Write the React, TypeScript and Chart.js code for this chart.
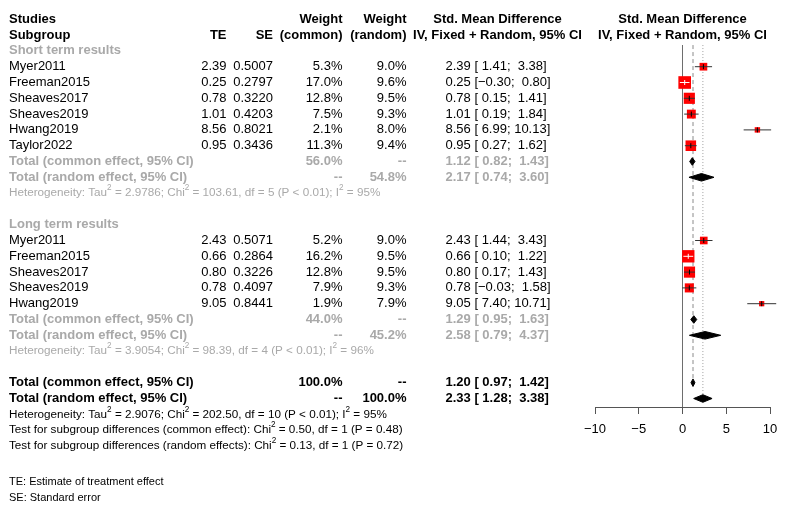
import React, { useEffect, useRef } from 'react';
import { Chart, registerables } from 'chart.js';

Chart.register(...registerables);

const FONT = '"Liberation Sans", Arial, Helvetica, sans-serif';
const GRAY = '#a9a9a9';

// ---------- data ----------
const shortStudies = ['Myer2011', 'Freeman2015', 'Sheaves2017', 'Sheaves2019', 'Hwang2019', 'Taylor2022'];
const shortTE = [2.39, 0.25, 0.78, 1.01, 8.56, 0.95];
const shortSE = [0.5007, 0.2797, 0.322, 0.4203, 0.8021, 0.3436];
const shortWCommon = [5.3, 17.0, 12.8, 7.5, 2.1, 11.3];
const shortWRandom = [9.0, 9.6, 9.5, 9.3, 8.0, 9.4];
const shortLower = [1.41, -0.3, 0.15, 0.19, 6.99, 0.27];
const shortUpper = [3.38, 0.8, 1.41, 1.84, 10.13, 1.62];

const longStudies = ['Myer2011', 'Freeman2015', 'Sheaves2017', 'Sheaves2019', 'Hwang2019'];
const longTE = [2.43, 0.66, 0.8, 0.78, 9.05];
const longSE = [0.5071, 0.2864, 0.3226, 0.4097, 0.8441];
const longWCommon = [5.2, 16.2, 12.8, 7.9, 1.9];
const longWRandom = [9.0, 9.5, 9.5, 9.3, 7.9];
const longLower = [1.44, 0.1, 0.17, -0.03, 7.4];
const longUpper = [3.43, 1.22, 1.43, 1.58, 10.71];

// summaries: [estimate, lower, upper]
const shortCommon = [1.12, 0.82, 1.43];
const shortRandom = [2.17, 0.74, 3.6];
const longCommon = [1.29, 0.95, 1.63];
const longRandom = [2.58, 0.79, 4.37];
const overallCommon = [1.2, 0.97, 1.42];
const overallRandom = [2.33, 1.28, 3.38];
// total weights: [common, random]
const shortWeightTotals = [56.0, 54.8];
const longWeightTotals = [44.0, 45.2];
const overallWeightTotals = [100.0, 100.0];

const hetShort = 'Heterogeneity: Tau^2 = 2.9786; Chi^2 = 103.61, df = 5 (P < 0.01); I^2 = 95%';
const hetLong = 'Heterogeneity: Tau^2 = 3.9054; Chi^2 = 98.39, df = 4 (P < 0.01); I^2 = 96%';
const hetOverall = 'Heterogeneity: Tau^2 = 2.9076; Chi^2 = 202.50, df = 10 (P < 0.01); I^2 = 95%';
const testCommon = 'Test for subgroup differences (common effect): Chi^2 = 0.50, df = 1 (P = 0.48)';
const testRandom = 'Test for subgroup differences (random effects): Chi^2 = 0.13, df = 1 (P = 0.72)';
const footnotes = ['TE: Estimate of treatment effect', 'SE: Standard error'];

const xTickValues = [-10, -5, 0, 5, 10];

// ---------- layout ----------
const W = 792;
const H = 507;
const ROW0 = 19.3;
const ROWH = 15.8;
const AXIS_Y = 407;
const Y_MIN = -ROW0 / ROWH;
const Y_MAX = (AXIS_Y - ROW0) / ROWH;
const LABEL_X = 9;
const TE_X = 226.5;
const SE_X = 273;
const WC_X = 342.5;
const WR_X = 406.5;
const CI_X = 445.5;
const CI_HEAD_X = 497.5;
const FS = 13;
const FS_HET = 11.7;
const FS_NOTE = 11;
const SQ_BASE = 1.5;
const SQ_K = 2.7;
const DIAMOND_H = 0.24;
const LINE_TOP_ROW = 1.63;

const groups = [
  {
    title: 'Short term results', studies: shortStudies, te: shortTE, se: shortSE,
    wc: shortWCommon, wr: shortWRandom, lo: shortLower, hi: shortUpper,
    common: shortCommon, random: shortRandom, wt: shortWeightTotals, het: hetShort,
  },
  {
    title: 'Long term results', studies: longStudies, te: longTE, se: longSE,
    wc: longWCommon, wr: longWRandom, lo: longLower, hi: longUpper,
    common: longCommon, random: longRandom, wt: longWeightTotals, het: hetLong,
  },
];

const fmtNum = (v: number) => (v < 0 ? '\u2212' + Math.abs(v).toFixed(2) : v.toFixed(2));
const pad5 = (s: string) => (s.length < 5 ? ' '.repeat(5 - s.length) + s : s);
const ciStr = (e: number, l: number, u: number) => `${fmtNum(e)} [${pad5(fmtNum(l))}; ${pad5(fmtNum(u))}]`;

// assign rows
type Study = { row: number; te: number; lo: number; hi: number; wc: number };
const studyRows: Study[] = [];
const diamonds: { row: number; v: number[] }[] = [];
let r = 2;
const groupRows: { title: number; first: number; common: number; random: number; het: number }[] = [];
groups.forEach((g) => {
  const n = g.studies.length;
  groupRows.push({ title: r, first: r + 1, common: r + n + 1, random: r + n + 2, het: r + n + 3 });
  g.studies.forEach((_, i) => studyRows.push({ row: r + 1 + i, te: g.te[i], lo: g.lo[i], hi: g.hi[i], wc: g.wc[i] }));
  diamonds.push({ row: r + n + 1, v: g.common });
  diamonds.push({ row: r + n + 2, v: g.random });
  r = r + n + 5;
});
const overallCommonRow = r;
const overallRandomRow = r + 1;
diamonds.push({ row: overallCommonRow, v: overallCommon });
diamonds.push({ row: overallRandomRow, v: overallRandom });

const sides = studyRows.map((s) => SQ_BASE + SQ_K * Math.sqrt(s.wc));

function drawRich(ctx: CanvasRenderingContext2D, text: string, x: number, y: number, size: number, color: string) {
  const parts = text.split('^2');
  let cx = x;
  ctx.fillStyle = color;
  ctx.textAlign = 'left';
  parts.forEach((p, i) => {
    ctx.font = `${size}px ${FONT}`;
    ctx.fillText(p, cx, y);
    cx += ctx.measureText(p).width;
    if (i < parts.length - 1) {
      ctx.font = `${size * 0.7}px ${FONT}`;
      ctx.fillText('2', cx, y - size * 0.42);
      cx += ctx.measureText('2').width;
    }
  });
}

const textPlugin = {
  id: 'forestText',
  afterDraw(chart: any) {
    const ctx: CanvasRenderingContext2D = chart.ctx;
    const ys = chart.scales.y;
    const Y = (row: number) => ys.getPixelForValue(row);
    const put = (s: string, x: number, row: number, align: CanvasTextAlign, color: string, bold: boolean, size = FS) => {
      ctx.font = `${bold ? 'bold ' : ''}${size}px ${FONT}`;
      ctx.fillStyle = color;
      ctx.textAlign = align;
      ctx.fillText(s, x, Y(row));
    };
    ctx.save();
    ctx.textBaseline = 'middle';
    const plotCenter = (chart.chartArea.left + chart.chartArea.right) / 2;

    // header
    put('Studies', LABEL_X, 0, 'left', '#000', true);
    put('Subgroup', LABEL_X, 1, 'left', '#000', true);
    put('TE', TE_X, 1, 'right', '#000', true);
    put('SE', SE_X, 1, 'right', '#000', true);
    put('Weight', WC_X, 0, 'right', '#000', true);
    put('(common)', WC_X, 1, 'right', '#000', true);
    put('Weight', WR_X, 0, 'right', '#000', true);
    put('(random)', WR_X, 1, 'right', '#000', true);
    put('Std. Mean Difference', CI_HEAD_X, 0, 'center', '#000', true);
    put('IV, Fixed + Random, 95% CI', CI_HEAD_X, 1, 'center', '#000', true);
    put('Std. Mean Difference', plotCenter, 0, 'center', '#000', true);
    put('IV, Fixed + Random, 95% CI', plotCenter, 1, 'center', '#000', true);

    groups.forEach((g, gi) => {
      const gr = groupRows[gi];
      put(g.title, LABEL_X, gr.title, 'left', GRAY, true);
      g.studies.forEach((name, i) => {
        const row = gr.first + i;
        put(name, LABEL_X, row, 'left', '#000', false);
        put(g.te[i].toFixed(2), TE_X, row, 'right', '#000', false);
        put(g.se[i].toFixed(4), SE_X, row, 'right', '#000', false);
        put(g.wc[i].toFixed(1) + '%', WC_X, row, 'right', '#000', false);
        put(g.wr[i].toFixed(1) + '%', WR_X, row, 'right', '#000', false);
        put(ciStr(g.te[i], g.lo[i], g.hi[i]), CI_X, row, 'left', '#000', false);
      });
      put('Total (common effect, 95% CI)', LABEL_X, gr.common, 'left', GRAY, true);
      put(g.wt[0].toFixed(1) + '%', WC_X, gr.common, 'right', GRAY, true);
      put('--', WR_X, gr.common, 'right', GRAY, true);
      put(ciStr(g.common[0], g.common[1], g.common[2]), CI_X, gr.common, 'left', GRAY, true);
      put('Total (random effect, 95% CI)', LABEL_X, gr.random, 'left', GRAY, true);
      put('--', WC_X, gr.random, 'right', GRAY, true);
      put(g.wt[1].toFixed(1) + '%', WR_X, gr.random, 'right', GRAY, true);
      put(ciStr(g.random[0], g.random[1], g.random[2]), CI_X, gr.random, 'left', GRAY, true);
      drawRich(ctx, g.het, LABEL_X, Y(gr.het), FS_HET, GRAY);
    });

    put('Total (common effect, 95% CI)', LABEL_X, overallCommonRow, 'left', '#000', true);
    put(overallWeightTotals[0].toFixed(1) + '%', WC_X, overallCommonRow, 'right', '#000', true);
    put('--', WR_X, overallCommonRow, 'right', '#000', true);
    put(ciStr(overallCommon[0], overallCommon[1], overallCommon[2]), CI_X, overallCommonRow, 'left', '#000', true);
    put('Total (random effect, 95% CI)', LABEL_X, overallRandomRow, 'left', '#000', true);
    put('--', WC_X, overallRandomRow, 'right', '#000', true);
    put(overallWeightTotals[1].toFixed(1) + '%', WR_X, overallRandomRow, 'right', '#000', true);
    put(ciStr(overallRandom[0], overallRandom[1], overallRandom[2]), CI_X, overallRandomRow, 'left', '#000', true);
    drawRich(ctx, hetOverall, LABEL_X, Y(overallRandomRow + 1), FS_HET, '#000');
    drawRich(ctx, testCommon, LABEL_X, Y(overallRandomRow + 2), FS_HET, '#000');
    drawRich(ctx, testRandom, LABEL_X, Y(overallRandomRow + 3), FS_HET, '#000');

    ctx.font = `${FS_NOTE}px ${FONT}`;
    ctx.fillStyle = '#000';
    ctx.textAlign = 'left';
    ctx.fillText(footnotes[0], LABEL_X, 481.7);
    ctx.fillText(footnotes[1], LABEL_X, 497.7);
    ctx.restore();
  },
};

export default function App() {
  const ref = useRef<HTMLCanvasElement | null>(null);
  useEffect(() => {
    if (!ref.current) return;
    const ciData: any[] = [];
    studyRows.forEach((s) => {
      ciData.push({ x: s.lo, y: s.row }, { x: s.hi, y: s.row }, { x: null, y: null });
    });
    // CI drawn white when it lies inside the square
    const isWhite = (chart: any, i: number) => {
      const xs = chart.scales.x;
      const w = xs.getPixelForValue(studyRows[i].hi) - xs.getPixelForValue(studyRows[i].lo);
      return w + 1 < sides[i];
    };
    const diamondSets = diamonds.map((d) => ({
      type: 'line' as const,
      data: [
        { x: d.v[1], y: d.row },
        { x: d.v[0], y: d.row - DIAMOND_H },
        { x: d.v[2], y: d.row },
        { x: d.v[0], y: d.row + DIAMOND_H },
        { x: d.v[1], y: d.row },
      ],
      borderColor: '#000',
      backgroundColor: '#000',
      borderWidth: 1,
      pointRadius: 0,
      fill: 'shape',
      order: 1,
      clip: false as any,
    }));

    const chart = new Chart(ref.current, {
      type: 'scatter',
      data: {
        datasets: [
          {
            type: 'line',
            data: [{ x: 0, y: LINE_TOP_ROW }, { x: 0, y: Y_MAX }],
            borderColor: '#6e6e6e', borderWidth: 1, pointRadius: 0, order: 6,
          },
          {
            type: 'line',
            data: [{ x: overallCommon[0], y: LINE_TOP_ROW }, { x: overallCommon[0], y: overallCommonRow - 0.3 }],
            borderColor: '#8a8a8a', borderWidth: 1, borderDash: [4, 3], pointRadius: 0, order: 6,
          },
          {
            type: 'line',
            data: [{ x: overallRandom[0], y: LINE_TOP_ROW }, { x: overallRandom[0], y: overallRandomRow - 0.25 }],
            borderColor: '#a0a0a0', borderWidth: 1, borderDash: [1, 2], pointRadius: 0, order: 6,
          },
          {
            type: 'scatter',
            data: studyRows.map((s) => ({ x: s.te, y: s.row })),
            pointStyle: 'rect',
            pointRadius: sides.map((s) => s / Math.SQRT2),
            pointBackgroundColor: '#ff0000',
            pointBorderWidth: 0,
            pointBorderColor: '#ff0000',
            order: 4,
            clip: false as any,
          },
          {
            type: 'line',
            data: ciData,
            borderColor: '#333',
            borderWidth: 1,
            pointRadius: 0,
            spanGaps: false,
            segment: {
              borderColor: (c: any) => (isWhite(c.chart, Math.floor(c.p0DataIndex / 3)) ? '#ffffff' : undefined),
            },
            order: 3,
            clip: false as any,
          },
          {
            type: 'scatter',
            data: studyRows.map((s) => ({ x: s.te, y: s.row })),
            pointStyle: 'line',
            pointRotation: 90,
            pointRadius: 2.5,
            pointBorderWidth: 1,
            pointBorderColor: (c: any) => (isWhite(c.chart, c.dataIndex) ? '#ffffff' : '#000000'),
            order: 2,
            clip: false as any,
          },
          ...diamondSets,
        ] as any,
      },
      options: {
        animation: false,
        responsive: false,
        events: [],
        layout: { autoPadding: false, padding: { left: 595, right: W - 770, top: 0, bottom: 0 } },
        plugins: { legend: { display: false }, tooltip: { enabled: false } },
        scales: {
          x: {
            type: 'linear',
            min: -10,
            max: 10,
            position: 'bottom',
            afterBuildTicks: (s: any) => {
              s.ticks = xTickValues.map((v) => ({ value: v }));
            },
            afterFit: (s: any) => {
              s.height = H - AXIS_Y;
            },
            ticks: {
              color: '#000',
              padding: 8,
              maxRotation: 0,
              font: { family: FONT, size: 13 },
              callback: (v: any) => (v < 0 ? '\u2212' + Math.abs(v) : String(v)),
            },
            grid: { drawOnChartArea: false, drawTicks: true, tickLength: 7, color: '#555' },
            border: { display: true, color: '#555', width: 1 },
          },
          y: { type: 'linear', display: false, min: Y_MIN, max: Y_MAX, reverse: true },
        },
      } as any,
      plugins: [textPlugin],
    });
    return () => chart.destroy();
  }, []);
  return (
    <div style={{ position: 'absolute', left: 0, top: 0, width: W, height: H, background: '#fff' }}>
      <canvas ref={ref} width={W} height={H} style={{ width: W, height: H, display: 'block' }} />
    </div>
  );
}
